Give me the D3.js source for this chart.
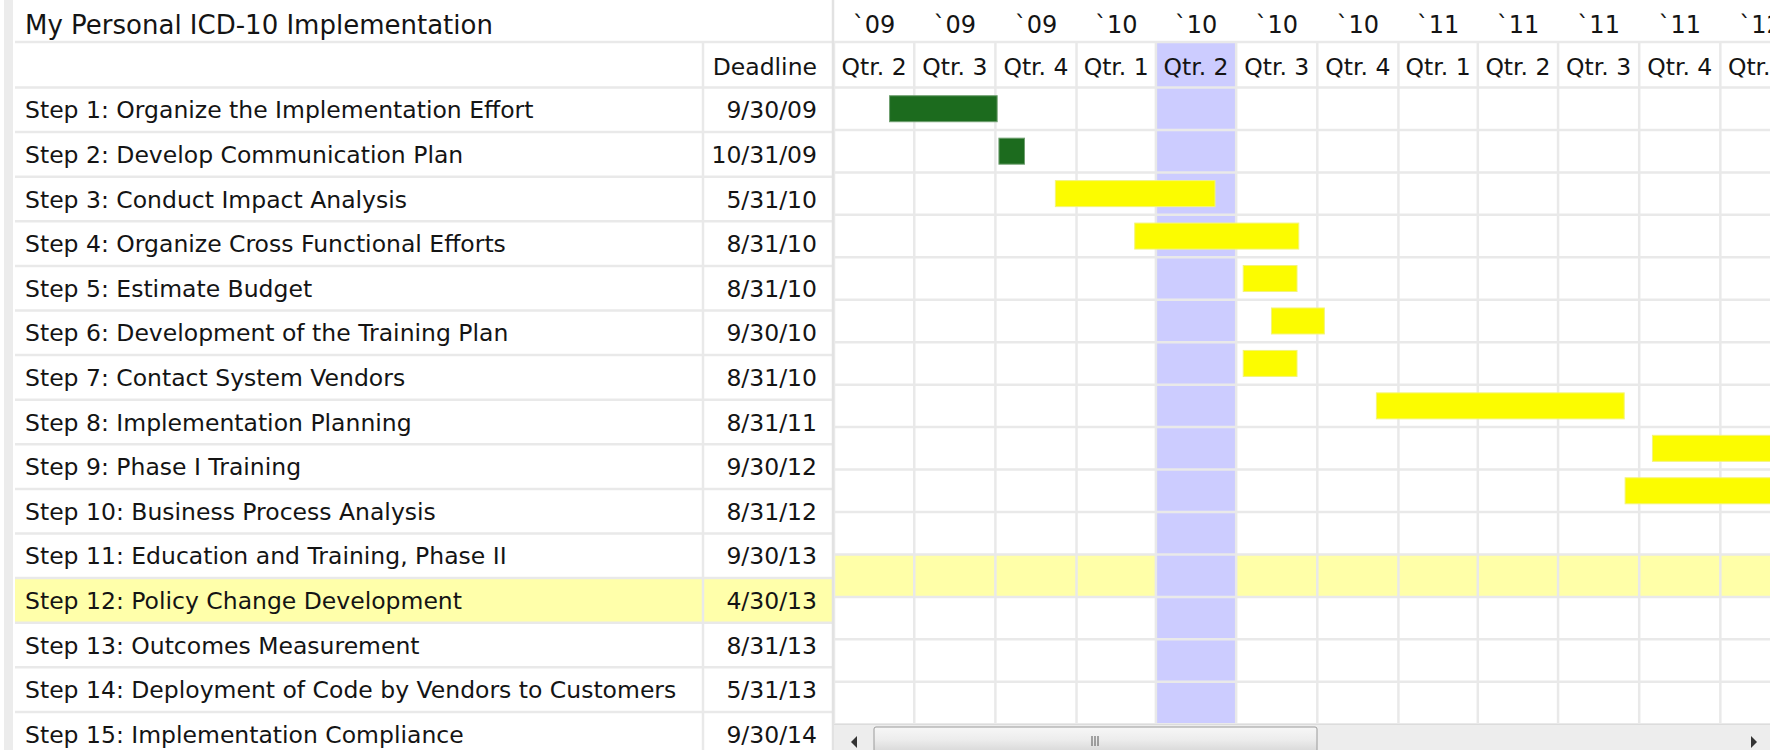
<!DOCTYPE html>
<html>
<head>
<meta charset="utf-8">
<script src="https://cdn.jsdelivr.net/npm/d3@7"></script>
<style>
  body { margin: 0; background: #fff; }
  svg { display: block; }
  text { font-family: "DejaVu Sans", Verdana, sans-serif; fill: #141414; }
</style>
</head>
<body>
<div id="vis"></div>
<script>
var title = 'My Personal ICD-10 Implementation';

var steps = [
  'Step 1: Organize the Implementation Effort',
  'Step 2: Develop Communication Plan',
  'Step 3: Conduct Impact Analysis',
  'Step 4: Organize Cross Functional Efforts',
  'Step 5: Estimate Budget',
  'Step 6: Development of the Training Plan',
  'Step 7: Contact System Vendors',
  'Step 8: Implementation Planning',
  'Step 9: Phase I Training',
  'Step 10: Business Process Analysis',
  'Step 11: Education and Training, Phase II',
  'Step 12: Policy Change Development',
  'Step 13: Outcomes Measurement',
  'Step 14: Deployment of Code by Vendors to Customers',
  'Step 15: Implementation Compliance'
];

var deadlines = ['9/30/09', '10/31/09', '5/31/10', '8/31/10', '8/31/10', '9/30/10', '8/31/10',
  '8/31/11', '9/30/12', '8/31/12', '9/30/13', '4/30/13', '8/31/13', '5/31/13', '9/30/14'];

// bar start / end (steps 11-15 start after the visible window)
var barStarts = ['2009-06-03', '2009-10-05', '2009-12-08', '2010-03-08', '2010-07-09', '2010-08-10', '2010-07-09',
  '2010-12-07', '2011-10-16', '2011-09-15', null, null, null, null, null];
var barEnds = ['2009-10-03', '2009-11-03', '2010-06-07', '2010-09-10', '2010-09-08', '2010-10-09', '2010-09-08',
  '2011-09-14', '2012-10-05', '2012-09-05', null, null, null, null, null];
var barStatus = ['done', 'done', 'open', 'open', 'open', 'open', 'open', 'open', 'open', 'open',
  'open', 'open', 'open', 'open', 'open'];

var quarterTicks = ['2009-04-01', '2009-07-01', '2009-10-01', '2010-01-01', '2010-04-01', '2010-07-01',
  '2010-10-01', '2011-01-01', '2011-04-01', '2011-07-01', '2011-10-01', '2012-01-01', '2012-04-01'];
var yearLabels = ['`09', '`09', '`09', '`10', '`10', '`10', '`10', '`11', '`11', '`11', '`11', '`12'];
var quarterLabels = ['Qtr. 2', 'Qtr. 3', 'Qtr. 4', 'Qtr. 1', 'Qtr. 2', 'Qtr. 3', 'Qtr. 4',
  'Qtr. 1', 'Qtr. 2', 'Qtr. 3', 'Qtr. 4', 'Qtr. 1'];

var selectedRow = 11;
var selectedQuarter = 4;

var width = 1783;
var height = 750;
var parse = d3.timeParse('%Y-%m-%d');
var qDates = quarterTicks.map(parse);

var tableLeft = 15, divX = 703, tableRight = 833;
var ganttLeft = 834, ganttRight = 1770;
var titleH = 42, headerBottom = 87.5;
var rowH = 44.6, ganttRowH = 42.45;
var scrollTop = 724;
var fontSize = 23.5;
var gridColor = '#e9e9e9';
var statusColor = { done: '#1c6b1e', open: '#fcfc00' };
var statusStroke = { done: '#6f9f70', open: '#f4f47a' };

var svg = d3.select('#vis').append('svg').attr('width', width).attr('height', height);

// left strip
svg.append('rect').attr('x', 4).attr('y', 0).attr('width', 9).attr('height', height).attr('fill', '#ececec');

// ---------- left table ----------
var y = d3.scaleBand().domain(d3.range(steps.length)).range([headerBottom, headerBottom + rowH * steps.length]);

var table = svg.append('g');

table.append('rect')
  .attr('x', tableLeft).attr('y', y(selectedRow))
  .attr('width', tableRight - tableLeft).attr('height', y.bandwidth())
  .attr('fill', '#ffffaa');

table.selectAll('.hline')
  .data([titleH, headerBottom].concat(d3.range(1, steps.length + 1).map(function (i) { return y(i - 1) + rowH; })))
  .enter().append('line')
  .attr('x1', tableLeft).attr('x2', tableRight)
  .attr('y1', function (d) { return d; }).attr('y2', function (d) { return d; })
  .attr('stroke', gridColor).attr('stroke-width', 2.5);

table.append('line')
  .attr('x1', divX).attr('x2', divX).attr('y1', titleH).attr('y2', height)
  .attr('stroke', gridColor).attr('stroke-width', 2.5);

table.append('text')
  .attr('x', 25).attr('y', 34)
  .attr('font-size', 26)
  .text(title);

table.append('text')
  .attr('x', 817).attr('y', 75)
  .attr('font-size', fontSize)
  .attr('text-anchor', 'end')
  .text('Deadline');

table.selectAll('.step')
  .data(steps)
  .enter().append('text')
  .attr('class', 'step')
  .attr('x', 25)
  .attr('y', function (d, i) { return y(i) + y.bandwidth() / 2 + 8.5; })
  .attr('font-size', fontSize)
  .text(function (d) { return d; });

table.selectAll('.deadline')
  .data(deadlines)
  .enter().append('text')
  .attr('class', 'deadline')
  .attr('x', 817)
  .attr('y', function (d, i) { return y(i) + y.bandwidth() / 2 + 8.5; })
  .attr('font-size', fontSize)
  .attr('text-anchor', 'end')
  .text(function (d) { return d; });

// separator between table and gantt
svg.append('line')
  .attr('x1', tableRight).attr('x2', tableRight).attr('y1', 0).attr('y2', height)
  .attr('stroke', '#e2e2e2').attr('stroke-width', 2.5);

// ---------- gantt ----------
var x = d3.scaleTime().domain([qDates[0], qDates[qDates.length - 1]]).range([ganttLeft, ganttLeft + 12 * 80.55]);
var gy = d3.scaleBand().domain(d3.range(steps.length)).range([headerBottom, headerBottom + ganttRowH * steps.length]);

svg.append('clipPath').attr('id', 'gclip')
  .append('rect').attr('x', ganttLeft).attr('y', 0).attr('width', ganttRight - ganttLeft).attr('height', scrollTop);

var gantt = svg.append('g').attr('clip-path', 'url(#gclip)');

var quarters = d3.range(qDates.length - 1);

// selected row band
gantt.append('rect')
  .attr('x', ganttLeft).attr('y', gy(selectedRow))
  .attr('width', ganttRight - ganttLeft).attr('height', gy.bandwidth())
  .attr('fill', '#ffffa8');

// selected quarter column
gantt.append('rect')
  .attr('x', x(qDates[selectedQuarter])).attr('y', titleH)
  .attr('width', x(qDates[selectedQuarter + 1]) - x(qDates[selectedQuarter]))
  .attr('height', scrollTop - titleH)
  .attr('fill', '#ccccff');

// vertical grid (quarter header + body)
gantt.selectAll('.vgrid')
  .data(qDates)
  .enter().append('line')
  .attr('x1', function (d) { return x(d); }).attr('x2', function (d) { return x(d); })
  .attr('y1', titleH).attr('y2', scrollTop)
  .attr('stroke', gridColor).attr('stroke-width', 2.5);

// horizontal grid
gantt.selectAll('.hgrid')
  .data([titleH, headerBottom].concat(d3.range(1, steps.length + 1).map(function (i) { return headerBottom + i * ganttRowH; })))
  .enter().append('line')
  .attr('x1', ganttLeft).attr('x2', ganttRight)
  .attr('y1', function (d) { return d; }).attr('y2', function (d) { return d; })
  .attr('stroke', gridColor).attr('stroke-width', 2.5);

gantt.selectAll('.year')
  .data(quarters)
  .enter().append('text')
  .attr('x', function (i) { return (x(qDates[i]) + x(qDates[i + 1])) / 2; })
  .attr('y', 33)
  .attr('font-size', 24)
  .attr('text-anchor', 'middle')
  .text(function (i) { return yearLabels[i]; });

gantt.selectAll('.qtr')
  .data(quarters)
  .enter().append('text')
  .attr('x', function (i) { return (x(qDates[i]) + x(qDates[i + 1])) / 2; })
  .attr('y', 75)
  .attr('font-size', 23.5)
  .attr('text-anchor', 'middle')
  .text(function (i) { return quarterLabels[i]; });

var barData = steps.map(function (s, i) {
  return { i: i, start: barStarts[i] && parse(barStarts[i]), end: barEnds[i] && parse(barEnds[i]), status: barStatus[i] };
}).filter(function (d) { return d.start; });

var barH = 26;
gantt.selectAll('.bar')
  .data(barData)
  .enter().append('rect')
  .attr('class', 'bar')
  .attr('x', function (d) { return x(d.start); })
  .attr('y', function (d) { return gy(d.i) + (gy.bandwidth() - barH) / 2; })
  .attr('width', function (d) { return x(d.end) - x(d.start); })
  .attr('height', barH)
  .attr('fill', function (d) { return statusColor[d.status]; })
  .attr('stroke', function (d) { return statusStroke[d.status]; })
  .attr('stroke-width', 1);

// ---------- horizontal scrollbar ----------
var sb = svg.append('g');
sb.append('rect').attr('x', ganttLeft).attr('y', scrollTop).attr('width', ganttRight - ganttLeft).attr('height', height - scrollTop)
  .attr('fill', '#ededed');
sb.append('line').attr('x1', ganttLeft).attr('x2', ganttRight).attr('y1', scrollTop + 0.5).attr('y2', scrollTop + 0.5)
  .attr('stroke', '#dcdcdc');

var grad = svg.append('defs').append('linearGradient').attr('id', 'thumb').attr('x1', 0).attr('x2', 0).attr('y1', 0).attr('y2', 1);
grad.append('stop').attr('offset', 0).attr('stop-color', '#f7f7f7');
grad.append('stop').attr('offset', 0.5).attr('stop-color', '#ececec');
grad.append('stop').attr('offset', 1).attr('stop-color', '#d6d6d6');

sb.append('rect').attr('x', 874).attr('y', 727).attr('width', 443).attr('height', 26).attr('rx', 2)
  .attr('fill', 'url(#thumb)').attr('stroke', '#9a9a9a');
sb.selectAll('.grip').data([-3, 0, 3]).enter().append('line')
  .attr('x1', function (d) { return 1095 + d; }).attr('x2', function (d) { return 1095 + d; })
  .attr('y1', 736).attr('y2', 746).attr('stroke', '#555').attr('stroke-width', 1);
sb.append('path').attr('d', 'M851,742 L857,736 L857,748 Z').attr('fill', '#333');
sb.append('path').attr('d', 'M1757,742 L1751,736 L1751,748 Z').attr('fill', '#333');
</script>
</body>
</html>
